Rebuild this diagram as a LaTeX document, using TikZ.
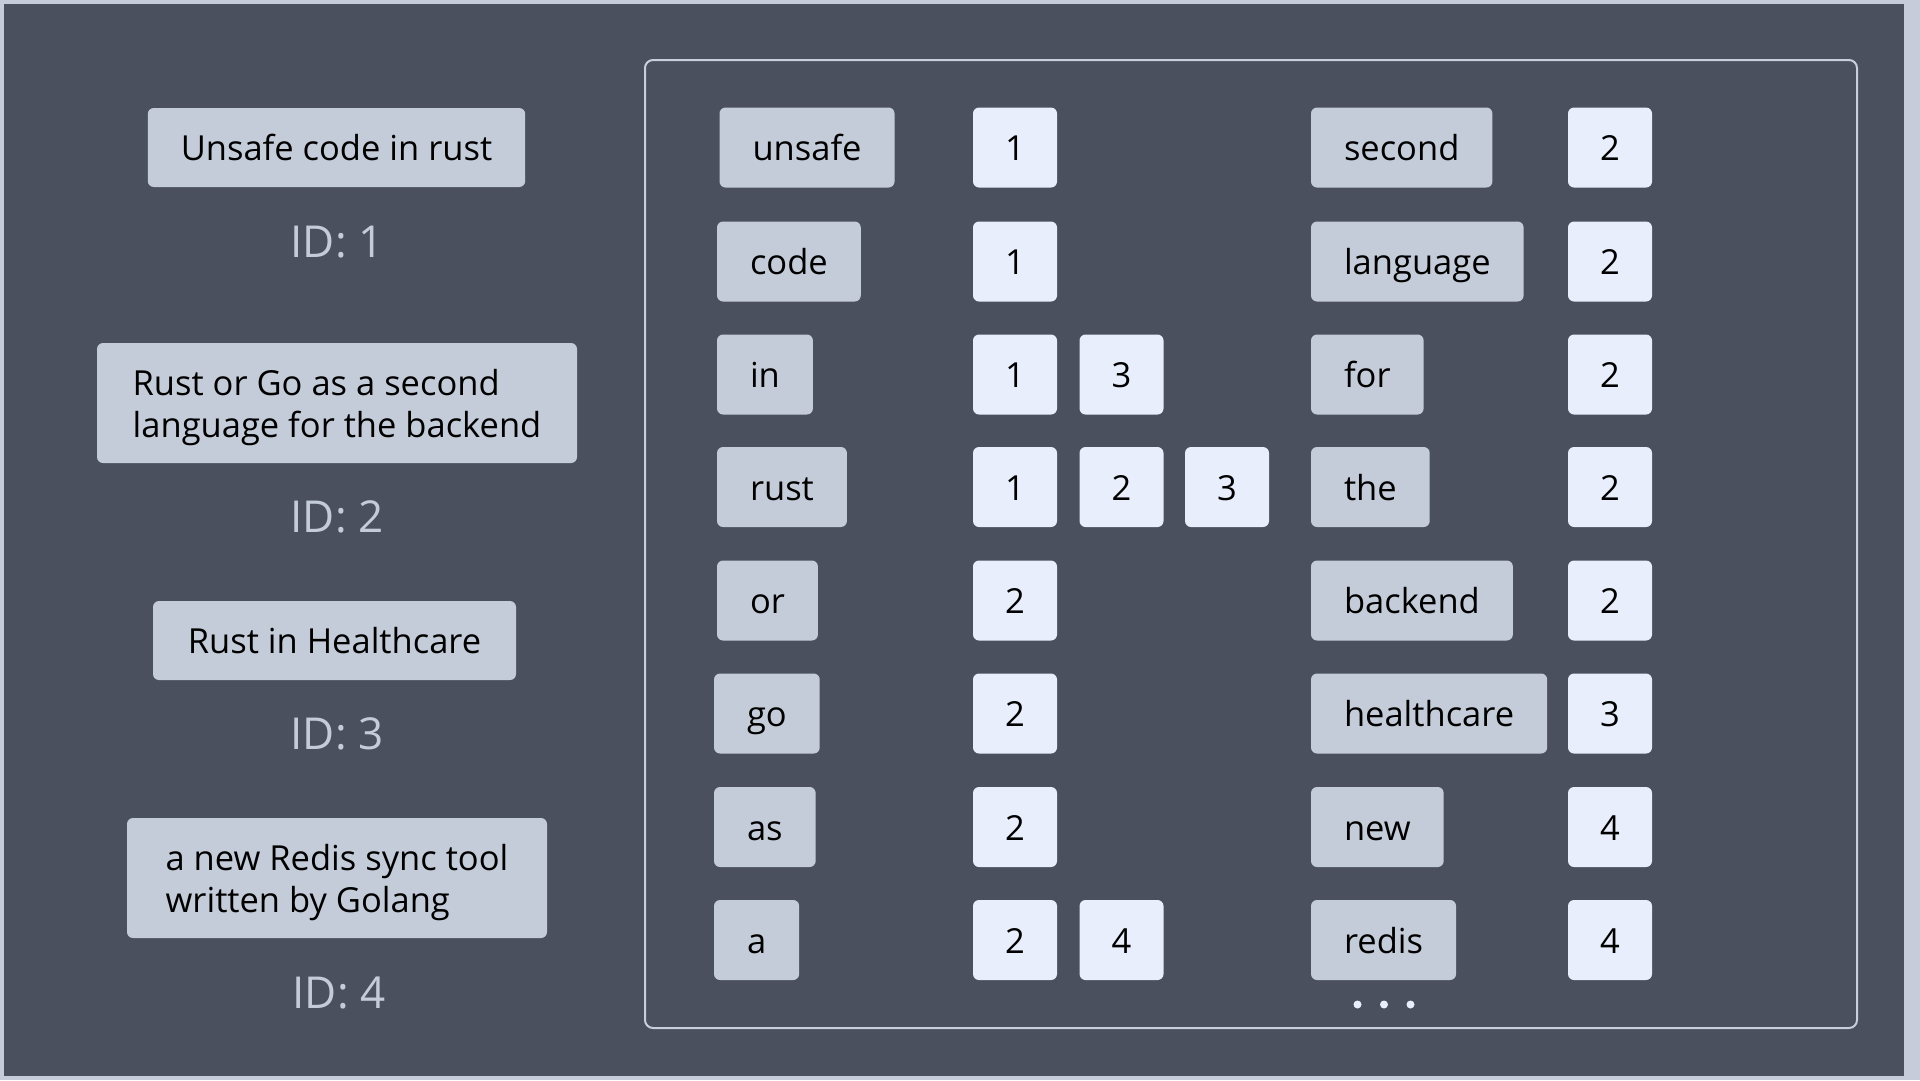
\documentclass[tikz,border=0pt]{standalone}
\usepackage{fontspec}
\setmainfont{Open Sans}

\definecolor{pagebg}{HTML}{4A505E}
\definecolor{rim}{HTML}{C6CCD9}
\definecolor{termfill}{HTML}{C5CCD9}
\definecolor{postfill}{HTML}{E8EEFB}
\definecolor{idgrey}{HTML}{C5CCD9}
\definecolor{panelline}{HTML}{C8CEDA}

\begin{document}
\begin{tikzpicture}[x=1pt,y=-1pt,
  every node/.style={inner sep=0pt, outer sep=0pt},
  boxtext/.style={font=\fontsize{34.5}{42}\selectfont, text=black},
  docbox/.style={boxtext, fill=termfill, rounded corners=6pt, inner xsep=33pt},
  oneline/.style={text height=26pt, text depth=0pt, minimum height=79pt},
  twoline/.style={align=left, minimum height=120pt, text depth=0pt},
  term/.style={boxtext, fill=termfill, rounded corners=6pt, inner xsep=33pt,
    minimum height=80pt, text height=26pt, text depth=0pt, anchor=west},
  posting/.style={boxtext, fill=postfill, rounded corners=6pt, minimum width=84pt,
    minimum height=80pt, text height=26pt, text depth=0pt},
  idlabel/.style={font=\fontsize{44}{44}\selectfont, text=idgrey,
    text height=31.5pt, text depth=0pt},
  dotmark/.style={circle, fill=postfill, minimum size=8pt}
]
% canvas with its light rim
\fill[rim] (0,0) rectangle (1920,1080);
\fill[pagebg] (4,4) rectangle (1904,1076);
\useasboundingbox (0,0) rectangle (1920,1080);

% inverted index panel
\draw[panelline, line width=2pt, rounded corners=8pt] (645,60) rectangle (1857,1028);

% documents
\node[docbox, oneline, minimum width=377pt] (doc1) at (336.5,147.5) {Unsafe code in rust};
\node[idlabel] (id1) at (337,241.5) {ID: 1};
\node[docbox, twoline, minimum width=480pt] (doc2) at (337,403)
  {Rust or Go as a second\\language for the backend};
\node[idlabel] (id2) at (337,517) {ID: 2};
\node[docbox, oneline, minimum width=363pt] (doc3) at (334.5,640.5) {Rust in Healthcare};
\node[idlabel] (id3) at (337,734) {ID: 3};
\node[docbox, twoline, minimum width=420pt] (doc4) at (337,878)
  {a new Redis sync tool\\written by Golang};
\node[idlabel] (id4) at (339,992.5) {ID: 4};

% terms, left column
\node[term] (t-unsafe) at (719.5,147.5) {unsafe};
\node[term] (t-code)   at (717,261.5) {code};
\node[term] (t-in)     at (717,374.5) {in};
\node[term] (t-rust)   at (717,487)   {rust};
\node[term] (t-or)     at (717,600.5) {or};
\node[term] (t-go)     at (714,713.5) {go};
\node[term] (t-as)     at (714,827)   {as};
\node[term] (t-a)      at (714,940)   {a};

% postings, left column
\node[posting] (p-unsafe-1) at (1015,147.5) {1};
\node[posting] (p-code-1)   at (1015,261.5) {1};
\node[posting] (p-in-1)     at (1015,374.5) {1};
\node[posting] (p-in-3)     at (1121.5,374.5) {3};
\node[posting] (p-rust-1)   at (1015,487) {1};
\node[posting] (p-rust-2)   at (1121.5,487) {2};
\node[posting] (p-rust-3)   at (1227,487) {3};
\node[posting] (p-or-2)     at (1015,600.5) {2};
\node[posting] (p-go-2)     at (1015,713.5) {2};
\node[posting] (p-as-2)     at (1015,827) {2};
\node[posting] (p-a-2)      at (1015,940) {2};
\node[posting] (p-a-4)      at (1121.5,940) {4};

% terms, right column
\node[term] (t-second)     at (1311,147.5) {second};
\node[term] (t-language)   at (1311,261.5) {language};
\node[term] (t-for)        at (1311,374.5) {for};
\node[term] (t-the)        at (1311,487)   {the};
\node[term] (t-backend)    at (1311,600.5) {backend};
\node[term] (t-healthcare) at (1311,713.5) {healthcare};
\node[term] (t-new)        at (1311,827)   {new};
\node[term] (t-redis)      at (1311,940)   {redis};

% postings, right column
\node[posting] (p-second-2)     at (1610,147.5) {2};
\node[posting] (p-language-2)   at (1610,261.5) {2};
\node[posting] (p-for-2)        at (1610,374.5) {2};
\node[posting] (p-the-2)        at (1610,487) {2};
\node[posting] (p-backend-2)    at (1610,600.5) {2};
\node[posting] (p-healthcare-3) at (1610,713.5) {3};
\node[posting] (p-new-4)        at (1610,827) {4};
\node[posting] (p-redis-4)      at (1610,940) {4};

% ellipsis under the last row
\node[dotmark] (more1) at (1357.5,1004.5) {};
\node[dotmark] (more2) at (1384,1004.5) {};
\node[dotmark] (more3) at (1410.5,1004.5) {};
\end{tikzpicture}
\end{document}
